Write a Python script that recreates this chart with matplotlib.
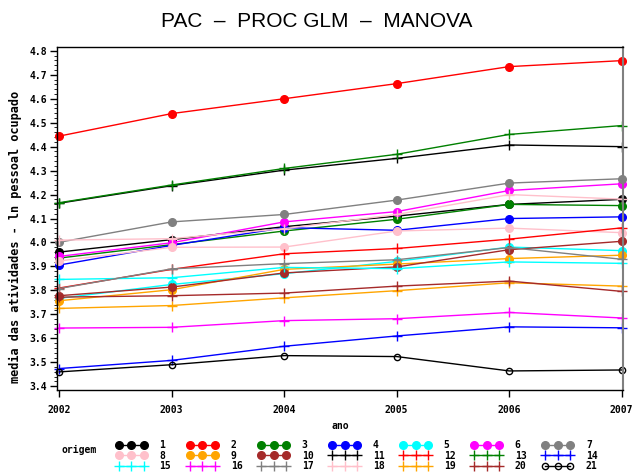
import matplotlib.pyplot as plt
from matplotlib.ticker import MultipleLocator


anos = [2002, 2003, 2004, 2005, 2006, 2007]

# media das atividades - ln pessoal ocupado, por origem
s1 = [3.960, 4.012, 4.066, 4.110, 4.159, 4.180]
s2 = [4.444, 4.538, 4.600, 4.663, 4.734, 4.759]
s3 = [3.935, 3.991, 4.048, 4.097, 4.159, 4.154]
s4 = [3.906, 3.988, 4.062, 4.051, 4.100, 4.107]
s5 = [3.767, 3.825, 3.870, 3.921, 3.981, 3.966]
s6 = [3.942, 3.999, 4.086, 4.129, 4.217, 4.245]
s7 = [4.001, 4.086, 4.117, 4.177, 4.248, 4.266]
s8 = [3.923, 3.980, 3.981, 4.048, 4.060, 4.041]
s9 = [3.757, 3.803, 3.888, 3.910, 3.933, 3.947]
s10 = [3.778, 3.814, 3.873, 3.898, 3.970, 4.005]
s11 = [4.164, 4.237, 4.302, 4.351, 4.407, 4.400]
s12 = [3.810, 3.888, 3.953, 3.975, 4.014, 4.061]
s13 = [4.166, 4.240, 4.309, 4.368, 4.451, 4.488]
s14 = [3.474, 3.508, 3.567, 3.610, 3.648, 3.644]
s15 = [3.846, 3.853, 3.896, 3.891, 3.919, 3.913]
s16 = [3.643, 3.646, 3.674, 3.682, 3.708, 3.685]
s17 = [3.808, 3.890, 3.912, 3.928, 3.979, 3.930]
s18 = [4.010, 4.016, 4.058, 4.117, 4.200, 4.181]
s19 = [3.725, 3.737, 3.769, 3.799, 3.832, 3.818]
s20 = [3.772, 3.778, 3.789, 3.818, 3.839, 3.796]
s21 = [3.460, 3.490, 3.528, 3.524, 3.464, 3.468]

series = [s1, s2, s3, s4, s5, s6, s7, s8, s9, s10, s11,
          s12, s13, s14, s15, s16, s17, s18, s19, s20, s21]
origens = [str(i) for i in range(1, 22)]

cores = ["black", "red", "green", "blue", "cyan", "magenta", "gray",
         "pink", "orange", "brown", "black", "red", "green", "blue",
         "cyan", "magenta", "gray", "pink", "orange", "brown", "black"]

mono = "DejaVu Sans Mono"

fig = plt.figure(figsize=(6.33, 4.72), dpi=100)
ax = fig.add_axes([0.090, 0.174, 0.894, 0.726])

handles = []
for i, ys in enumerate(series):
    if i < 10:
        estilo = dict(marker="o", markersize=5.5, markerfacecolor=cores[i],
                      markeredgecolor=cores[i])
    elif i < 20:
        estilo = dict(marker="+", markersize=7, markeredgewidth=1)
    else:
        estilo = dict(marker="o", markersize=4.5, markerfacecolor="none",
                      markeredgewidth=1)
    ln, = ax.plot(anos, ys, color=cores[i], linewidth=1, label=origens[i],
                  clip_on=False, **estilo)
    handles.append(ln)

ax.set_xlim(2001.98, 2007.01)
ax.set_ylim(3.385, 4.815)
ax.set_xticks(anos)
ax.yaxis.set_major_locator(MultipleLocator(0.1))
ax.yaxis.set_minor_locator(MultipleLocator(0.02))
ax.yaxis.set_major_formatter(plt.FormatStrFormatter("%.1f"))
ax.tick_params(axis="both", direction="out", length=5, width=1,
               labelsize=7, pad=2)
ax.tick_params(axis="y", which="minor", length=2.5)
ax.tick_params(axis="x", pad=6)
for lab in ax.get_xticklabels() + ax.get_yticklabels():
    lab.set_family(mono)
    lab.set_fontweight("bold")

for sp in ax.spines.values():
    sp.set_linewidth(1)
ax.spines["right"].set_color("gray")
ax.spines["right"].set_linewidth(1.5)

ax.set_ylabel("media das atividades - ln pessoal ocupado", family=mono,
              fontsize=8.6, fontweight="bold")
ax.yaxis.set_label_coords(-0.062, 0.445)
ax.set_xlabel("ano", family=mono, fontsize=7, fontweight="bold",
              labelpad=4)

fig.suptitle("PAC  –  PROC GLM  –  MANOVA", y=0.975, fontsize=15,
             family="Liberation Sans")

# legenda em linhas: 1..7 / 8..14 / 15..21
ordem = []
for c in range(7):
    for r in range(3):
        ordem.append(r * 7 + c)
leg = fig.legend([handles[k] for k in ordem], [origens[k] for k in ordem],
                 ncol=7, loc="upper left", bbox_to_anchor=(0.183, 0.068),
                 frameon=False, numpoints=3, handlelength=3.2,
                 handletextpad=1.3, columnspacing=1.6, labelspacing=0.08,
                 borderpad=0, borderaxespad=0,
                 prop={"family": mono, "size": 7, "weight": "bold"})
fig.text(0.097, 1 - 450 / 472, "origem", family=mono, fontsize=7,
         fontweight="bold", va="center")

plt.savefig("out.png", dpi=100)
plt.close()
